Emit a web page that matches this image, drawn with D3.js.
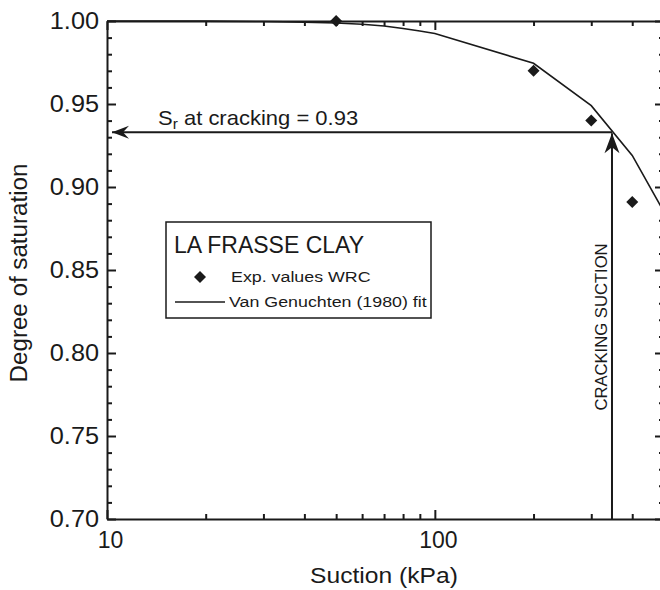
<!doctype html>
<html>
<head>
    <style>
        body { margin: 0; background: #fff; }
        svg text { font-family: "Liberation Sans", Arial, sans-serif; fill: #1a1a1a; }
        .axis path, .axis line { stroke: #1a1a1a; stroke-width: 2; }
    </style>
    <script src="https://d3js.org/d3.v7.min.js"></script>
</head>
<body>
<script>
    // experimental water retention points
    var expSuction = [50, 200, 300, 400];
    var expSr = [1.00, 0.970, 0.940, 0.891];

    // Van Genuchten (1980) fit
    var fitSuction = [10, 20, 30, 40, 50, 60, 70, 80, 90, 100, 200, 300, 400, 500];
    var fitSr = [1.000, 0.9999, 0.9997, 0.9993, 0.9988, 0.998, 0.997, 0.9955, 0.994, 0.9925, 0.9745, 0.949, 0.919, 0.885];

    // cracking point
    var crackSuction = 347;
    var crackSr = 0.933;

    var yTicks = [0.70, 0.75, 0.80, 0.85, 0.90, 0.95, 1.00];
    var xTicks = [10, 100];

    var width = 660, height = 590;
    var plotL = 107, plotT = 21, plotR = 664, plotB = 519;

    var svg = d3.select("body").append("svg")
        .attr("width", width)
        .attr("height", height);

    var x = d3.scaleLog().domain([10, 500]).range([plotL, plotR]);
    var y = d3.scaleLinear().domain([0.70, 1.00]).range([plotB, plotT]);

    var minorX = [20, 30, 40, 50, 60, 70, 80, 90, 200, 300, 400];
    var minorY = d3.range(70, 101).map(function (d) { return d / 100; })
        .filter(function (d) { return Math.round(d * 100) % 5 != 0; });

    function stretchText(sel, s) {
        sel.each(function () {
            var t = d3.select(this);
            var tx = +t.attr("x") || 0;
            t.attr("transform", "scale(" + s + ",1)").attr("x", tx / s);
        });
    }

    // left axis
    var gl = svg.append("g").attr("class", "axis").attr("transform", "translate(" + plotL + ",0)")
        .call(d3.axisLeft(y).tickValues(yTicks).tickFormat(d3.format(".2f")).tickSize(-9).tickSizeOuter(0).tickPadding(8));
    gl.selectAll("text").style("font-size", "23px");
    stretchText(gl.selectAll("text"), 1.1);
    svg.append("g").attr("class", "axis").attr("transform", "translate(" + plotL + ",0)")
        .call(d3.axisLeft(y).tickValues(minorY).tickFormat("").tickSize(-5).tickSizeOuter(0))
        .select(".domain").remove();

    // right axis
    svg.append("g").attr("class", "axis").attr("transform", "translate(" + plotR + ",0)")
        .call(d3.axisRight(y).tickValues(yTicks).tickFormat("").tickSize(-9).tickSizeOuter(0));
    svg.append("g").attr("class", "axis").attr("transform", "translate(" + plotR + ",0)")
        .call(d3.axisRight(y).tickValues(minorY).tickFormat("").tickSize(-5).tickSizeOuter(0))
        .select(".domain").remove();

    // bottom axis
    var gb = svg.append("g").attr("class", "axis").attr("transform", "translate(0," + plotB + ")")
        .call(d3.axisBottom(x).tickValues(xTicks).tickFormat(d3.format("d")).tickSize(-9).tickSizeOuter(0).tickPadding(13));
    gb.selectAll("text").style("font-size", "23px").attr("x", 3);
    svg.append("g").attr("class", "axis").attr("transform", "translate(0," + plotB + ")")
        .call(d3.axisBottom(x).tickValues(minorX).tickFormat("").tickSize(-5).tickSizeOuter(0))
        .select(".domain").remove();

    // top axis
    svg.append("g").attr("class", "axis").attr("transform", "translate(0," + plotT + ")")
        .call(d3.axisTop(x).tickValues(xTicks).tickFormat("").tickSize(-9).tickSizeOuter(0));
    svg.append("g").attr("class", "axis").attr("transform", "translate(0," + plotT + ")")
        .call(d3.axisTop(x).tickValues(minorX).tickFormat("").tickSize(-5).tickSizeOuter(0))
        .select(".domain").remove();

    // axis titles
    svg.append("text")
        .attr("transform", "translate(384,583) scale(1.12,1)")
        .attr("text-anchor", "middle")
        .style("font-size", "22px")
        .text("Suction (kPa)");
    svg.append("text")
        .attr("transform", "translate(27,273) rotate(-90) scale(1.05,1)")
        .attr("text-anchor", "middle")
        .style("font-size", "23px")
        .text("Degree of saturation");

    // arrow markers
    var defs = svg.append("defs");
    defs.append("marker")
        .attr("id", "arrowH")
        .attr("viewBox", "-18 -8 20 16")
        .attr("refX", 0).attr("refY", 0)
        .attr("markerWidth", 20).attr("markerHeight", 16)
        .attr("markerUnits", "userSpaceOnUse")
        .attr("orient", "auto")
        .append("path")
        .attr("d", "M0,0L-17,-6.5L-11,0L-17,6.5Z")
        .attr("fill", "#1a1a1a");
    defs.append("marker")
        .attr("id", "arrowV")
        .attr("viewBox", "-22 -9 24 18")
        .attr("refX", 0).attr("refY", 0)
        .attr("markerWidth", 24).attr("markerHeight", 18)
        .attr("markerUnits", "userSpaceOnUse")
        .attr("orient", "auto")
        .append("path")
        .attr("d", "M0,0L-20,-7.5L-14,0L-20,7.5Z")
        .attr("fill", "#1a1a1a");

    // Van Genuchten fit line
    var line = d3.line()
        .x(function (d, i) { return x(fitSuction[i]); })
        .y(function (d) { return y(d); });
    svg.append("path")
        .datum(fitSr)
        .attr("d", line)
        .attr("fill", "none")
        .attr("stroke", "#1a1a1a")
        .attr("stroke-width", 1.6);

    // cracking arrows
    svg.append("line")
        .attr("x1", x(crackSuction)).attr("y1", y(crackSr))
        .attr("x2", x(10) + 5).attr("y2", y(crackSr))
        .attr("stroke", "#1a1a1a").attr("stroke-width", 2)
        .attr("marker-end", "url(#arrowH)");
    svg.append("line")
        .attr("x1", x(crackSuction)).attr("y1", y(0.70))
        .attr("x2", x(crackSuction)).attr("y2", y(crackSr) + 1)
        .attr("stroke", "#1a1a1a").attr("stroke-width", 2)
        .attr("marker-end", "url(#arrowV)");

    // experimental points
    var diamond = d3.symbol().type(d3.symbolSquare).size(72);
    svg.selectAll(".pt")
        .data(expSr)
        .enter()
        .append("path")
        .attr("class", "pt")
        .attr("d", diamond)
        .attr("transform", function (d, i) {
            return "translate(" + x(expSuction[i]) + "," + y(d) + ") rotate(45)";
        })
        .attr("fill", "#1a1a1a");

    // annotations
    var sr = svg.append("text")
        .attr("transform", "translate(158,125) scale(1.1,1)")
        .style("font-size", "20px");
    sr.append("tspan").text("S");
    sr.append("tspan").attr("dy", 4).style("font-size", "14px").text("r");
    sr.append("tspan").attr("dy", -4).text(" at cracking = 0.93");

    svg.append("text")
        .attr("transform", "translate(607,327) rotate(-90) scale(1.04,1)")
        .attr("text-anchor", "middle")
        .style("font-size", "16px")
        .text("CRACKING SUCTION");

    // legend
    var lg = svg.append("g");
    lg.append("rect")
        .attr("x", 166).attr("y", 222)
        .attr("width", 265).attr("height", 96)
        .attr("fill", "#fff")
        .attr("stroke", "#1a1a1a").attr("stroke-width", 1.5);
    lg.append("text")
        .attr("transform", "translate(174,253)")
        .style("font-size", "23px")
        .text("LA FRASSE CLAY");
    lg.append("path")
        .attr("d", diamond)
        .attr("transform", "translate(200,277) rotate(45)")
        .attr("fill", "#1a1a1a");
    lg.append("text")
        .attr("transform", "translate(231,282) scale(1.15,1)")
        .style("font-size", "15.5px")
        .text("Exp. values WRC");
    lg.append("line")
        .attr("x1", 175).attr("x2", 225)
        .attr("y1", 302).attr("y2", 302)
        .attr("stroke", "#1a1a1a").attr("stroke-width", 1.6);
    lg.append("text")
        .attr("transform", "translate(229,307) scale(1.15,1)")
        .style("font-size", "15.5px")
        .text("Van Genuchten (1980) fit");
</script>
</body>
</html>
